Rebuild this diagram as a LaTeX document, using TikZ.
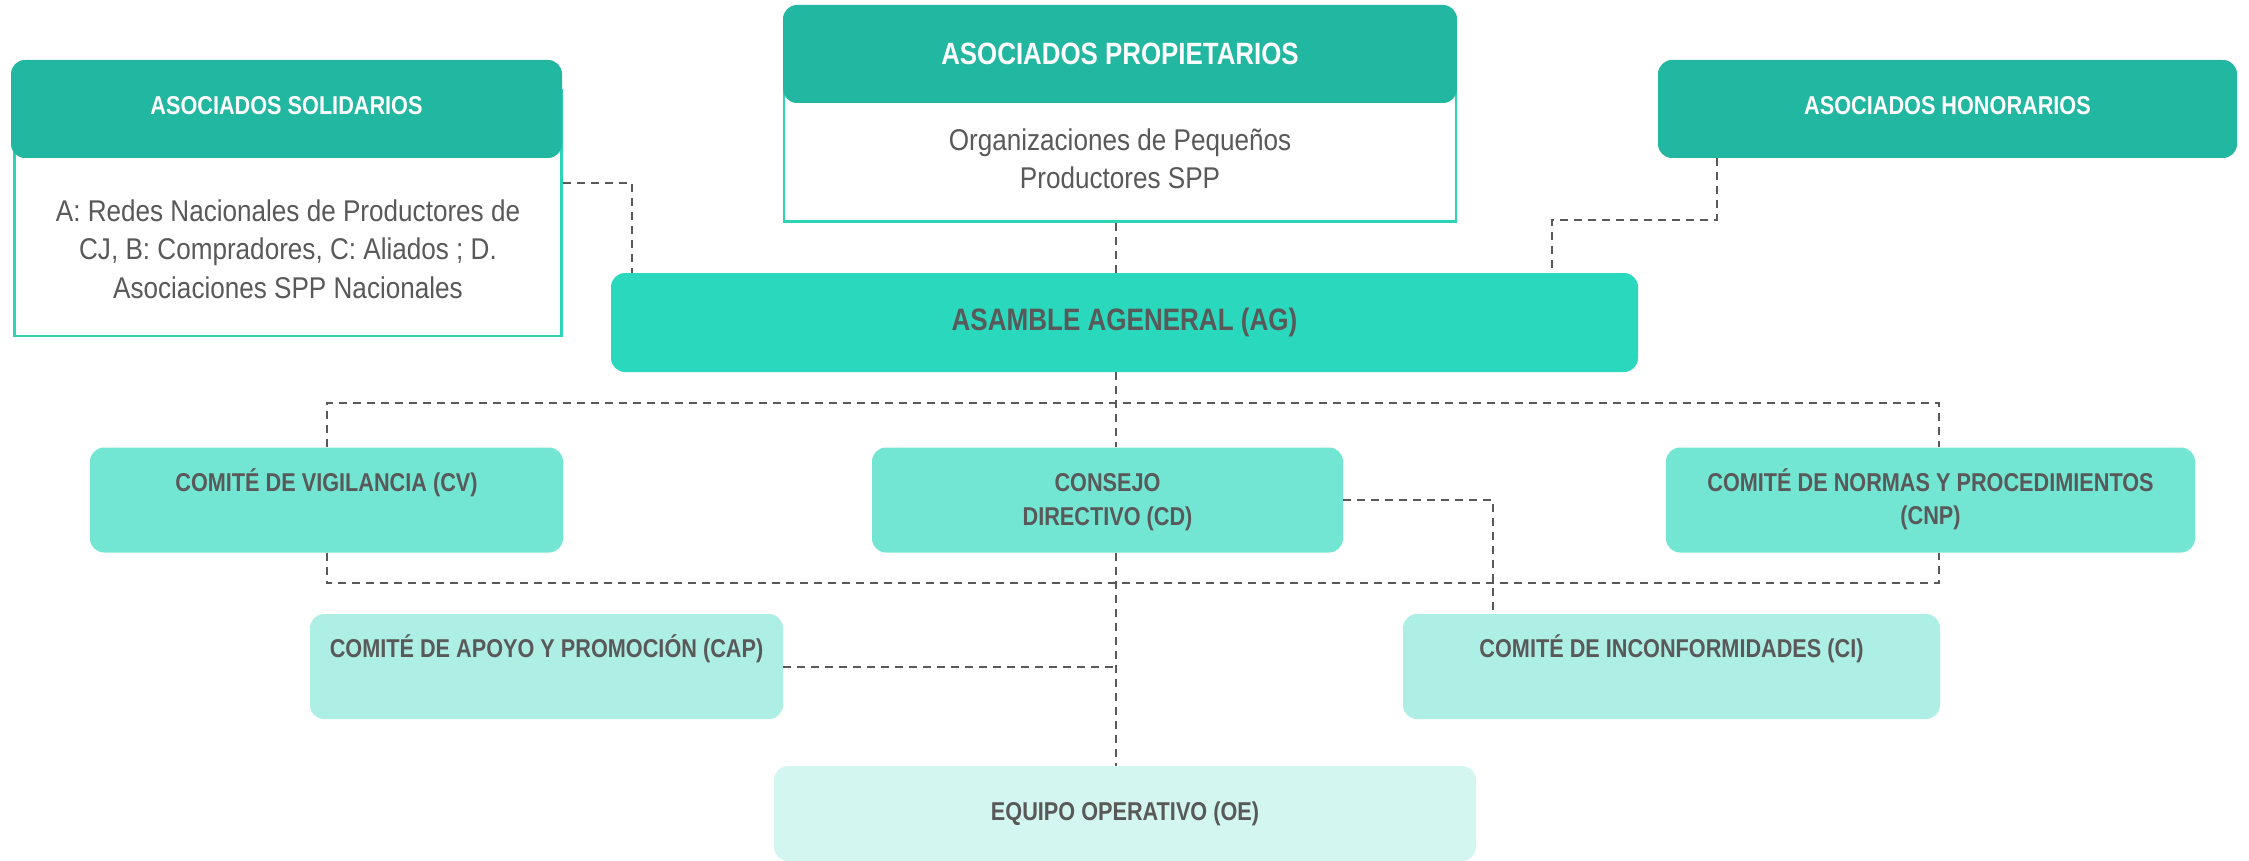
\documentclass[tikz,border=0pt]{standalone}
\usepackage{fontspec}
\setmainfont{Liberation Sans}[FakeStretch=0.84]
\newfontfamily\bodyfont{Liberation Sans}[FakeStretch=0.87]
\usepackage{xcolor}
\usetikzlibrary{calc}

\definecolor{headteal}{HTML}{22B7A0}
\definecolor{agteal}{HTML}{2AD9BD}
\definecolor{midteal}{HTML}{73E5D3}
\definecolor{lightteal}{HTML}{AEEFE5}
\definecolor{paleteal}{HTML}{D3F6F0}
\definecolor{lineteal}{HTML}{2BD4B8}
\definecolor{txtgray}{HTML}{595959}

\begin{document}
\begin{tikzpicture}[x=1pt, y=-1pt,
    orgbox/.style={rectangle, rounded corners=14pt, inner sep=0pt, minimum height=105pt},
    headbox/.style={orgbox, fill=headteal, minimum height=98pt},
    bodybox/.style={rectangle, draw=lineteal, line width=2.2pt, fill=white, inner sep=0pt},
    headtxt/.style={anchor=base, text=white, font=\bfseries\fontsize{25.8}{33.5}\selectfont},
    boxtxt/.style={anchor=base, align=center, text=txtgray, font=\bfseries\fontsize{25.8}{33.7}\selectfont},
    bodytxt/.style={anchor=base, align=center, text=txtgray, font=\bodyfont\fontsize{30}{38.2}\selectfont},
    link/.style={draw=txtgray, line width=2pt, dash pattern=on 8pt off 6pt}
  ]
    \useasboundingbox (0,0) rectangle (2249,861);

    % Associates (top row)
    \node[bodybox, minimum width=547pt, minimum height=246pt] (solb) at (288,213) {};
    \node[headbox, minimum width=551pt] (sol) at (286.5,109) {};
    \node[headtxt] (sol-t) at ($(sol.north)+(0,55)$) {ASOCIADOS SOLIDARIOS};
    \node[bodytxt] (solb-t) at ($(solb.north)+(0,209.1)$)
        {A: Redes Nacionales de Productores de\\CJ, B: Compradores, C: Aliados ; D.\\Asociaciones SPP Nacionales};

    \node[bodybox, minimum width=672pt, minimum height=161pt] (propb) at (1120,141) {};
    \node[headbox, minimum width=674pt] (prop) at (1120,54) {};
    \node[headtxt, font=\bfseries\fontsize{30.8}{36}\selectfont] (prop-t) at ($(prop.north)+(0,60)$) {ASOCIADOS PROPIETARIOS};
    \node[bodytxt] (propb-t) at ($(propb.north)+(0,129)$) {Organizaciones de Pequeños\\Productores SPP};

    \node[headbox, minimum width=579pt] (hon) at (1947.5,109) {};
    \node[headtxt] (hon-t) at ($(hon.north)+(0,55)$) {ASOCIADOS HONORARIOS};

    % General assembly
    \node[orgbox, fill=agteal, minimum width=1027pt, minimum height=99pt, text=txtgray,
          font=\bfseries\fontsize{31}{36}\selectfont] (ag) at (1124.5,322.5) {ASAMBLE AGENERAL (AG)};

    % Committees
    \node[orgbox, fill=midteal, minimum width=473pt] (cv) at (326.5,500) {};
    \node[orgbox, fill=midteal, minimum width=471pt] (cd) at (1107.5,500) {};
    \node[orgbox, fill=midteal, minimum width=529pt] (cnp) at (1930.5,500) {};
    \node[orgbox, fill=lightteal, minimum width=473pt] (cap) at (546.5,666.5) {};
    \node[orgbox, fill=lightteal, minimum width=537pt] (ci) at (1671.5,666.5) {};
    \node[orgbox, fill=paleteal, minimum width=702pt, minimum height=95pt, text=txtgray,
          font=\bfseries\fontsize{25.8}{33.7}\selectfont] (oe) at (1125,813.5) {EQUIPO OPERATIVO (OE)};

    \node[boxtxt] (cv-t) at ($(cv.north)+(0,44)$) {COMITÉ DE VIGILANCIA (CV)};
    \node[boxtxt] (cd-t) at ($(cd.north)+(0,78)$) {CONSEJO\\DIRECTIVO (CD)};
    \node[boxtxt] (cnp-t) at ($(cnp.north)+(0,77.5)$) {COMITÉ DE NORMAS Y PROCEDIMIENTOS\\(CNP)};
    \node[boxtxt] (cap-t) at ($(cap.north)+(0,44)$) {COMITÉ DE APOYO Y PROMOCIÓN (CAP)};
    \node[boxtxt] (ci-t) at ($(ci.north)+(0,44)$) {COMITÉ DE INCONFORMIDADES (CI)};

    % Dashed links
    \coordinate (spine) at (1116,0);
    \draw[link] ([yshift=30pt]solb.east) -| ([xshift=21pt]ag.north west);
    \draw[link] (propb.south -| spine) -- (ag.north -| spine);
    \draw[link] ([xshift=59pt]hon.south west) |- ([xshift=-86pt,yshift=53pt]ag.north east) -- ([xshift=-86pt]ag.north east);
    \draw[link] (ag.south -| spine) -- (cd.north -| spine);
    \draw[link] (cv.north) -- ++(0,-44) -| ([xshift=8.5pt]cnp.north);
    \draw[link] (cv.south) -- ++(0,30.5) -| ([xshift=8.5pt]cnp.south);
    \draw[link] (cd.south -| spine) -- (oe.north -| spine);
    \draw[link] (cap.east) -- (cap.east -| spine);
    \draw[link] (cd.east) -| ([xshift=-178.5pt]ci.north);
\end{tikzpicture}
\end{document}
